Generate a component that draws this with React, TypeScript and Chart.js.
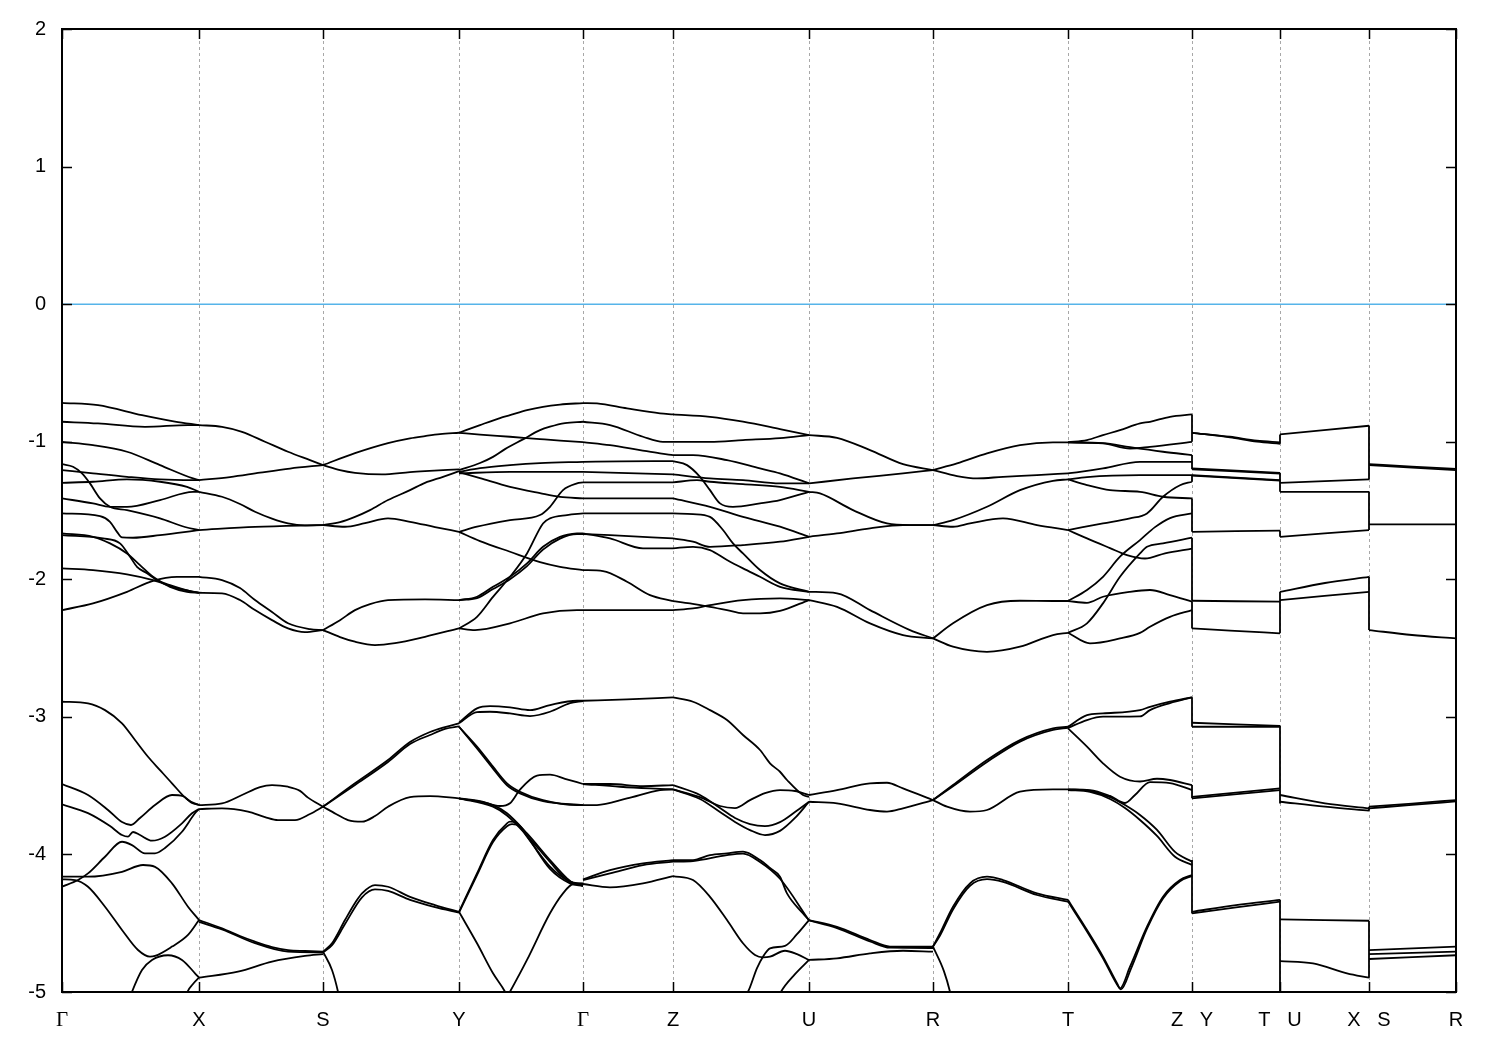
import React, { useEffect, useRef } from 'react';
import { Chart, registerables } from 'chart.js';

Chart.register(...registerables);

type Pt = [number, number];

// High-symmetry points along the k-path (path length units) and their labels
const kTickPos = [0, 137, 261, 397, 521, 611, 747, 871, 1006, 1130, 1218, 1307, 1394];
const kTickLabels = ['Γ', 'X', 'S', 'Y', 'Γ', 'Z', 'U', 'R', 'T', 'Z   Y', 'T   U', 'X   S', 'R'];
const energyTicks = [-5, -4, -3, -2, -1, 0, 1, 2];
const fermiEnergy = 0;

// Band energies (eV) per path segment: each curve is a list of [k, E]
const bandsGX: Pt[][] = [
  [[0, -0.717], [36, -0.734], [80, -0.807], [113, -0.854], [137, -0.879]],
  [[0, -0.855], [36, -0.867], [83, -0.892], [126, -0.879], [137, -0.879]],
  [[0, -1.001], [31, -1.025], [65, -1.073], [98, -1.17], [131, -1.267], [137, -1.279]],
  [[0, -1.163], [11, -1.182], [20, -1.23], [28, -1.303], [38, -1.412], [48, -1.473], [65, -1.497], [98, -1.557], [123, -1.62], [137, -1.642]],
  [[0, -1.412], [31, -1.448], [48, -1.473], [65, -1.473], [98, -1.424], [131, -1.364], [137, -1.364]],
  [[0, -1.206], [31, -1.23], [65, -1.255], [98, -1.274], [131, -1.279], [137, -1.279]],
  [[0, -1.299], [31, -1.291], [65, -1.274], [98, -1.291], [125, -1.328], [137, -1.364]],
  [[0, -1.521], [38, -1.541], [48, -1.582], [55, -1.655], [60, -1.696], [71, -1.698], [98, -1.679], [137, -1.642]],
  [[0, -1.666], [31, -1.691], [48, -1.739], [65, -1.812], [78, -1.897], [91, -1.982], [108, -2.055], [125, -2.091], [137, -2.098]],
  [[0, -1.679], [41, -1.703], [58, -1.739], [68, -1.836], [75, -1.909], [85, -1.957], [95, -2.006], [108, -2.042], [131, -2.091], [137, -2.098]],
  [[0, -1.921], [31, -1.933], [65, -1.964], [91, -2.006], [115, -2.064], [137, -2.098]],
  [[0, -2.224], [31, -2.175], [65, -2.091], [91, -2.011], [115, -1.982], [137, -1.982]],
  [[0, -2.89], [26, -2.902], [43, -2.951], [60, -3.047], [73, -3.168], [86, -3.29], [98, -3.387], [110, -3.483], [126, -3.605], [137, -3.641]],
  [[0, -3.488], [26, -3.568], [46, -3.677], [60, -3.765], [69, -3.786], [78, -3.735], [93, -3.641], [110, -3.568], [121, -3.576], [130, -3.626], [137, -3.641]],
  [[0, -3.636], [26, -3.7], [48, -3.794], [60, -3.859], [66, -3.871], [71, -3.837], [78, -3.859], [90, -3.9], [103, -3.871], [120, -3.774], [130, -3.701], [137, -3.67]],
  [[0, -4.235], [16, -4.186], [26, -4.138], [43, -4.017], [60, -3.908], [70, -3.932], [83, -3.992], [93, -3.992], [103, -3.953], [120, -3.835], [133, -3.701], [137, -3.67]],
  [[0, -4.162], [26, -4.162], [60, -4.126], [81, -4.077], [93, -4.09], [110, -4.21], [126, -4.38], [137, -4.477]],
  [[0, -4.181], [13, -4.186], [26, -4.235], [43, -4.38], [60, -4.549], [76, -4.695], [88, -4.743], [93, -4.738], [110, -4.67], [126, -4.585], [137, -4.477]],
  [[55, -5.3], [70, -4.998], [80, -4.84], [90, -4.767], [106, -4.733], [120, -4.767], [133, -4.864], [137, -4.896]],
  [[120, -5.15], [125, -5.006], [131, -4.942], [137, -4.896]],
];

const bandsXS: Pt[][] = [
  [[137, -0.879], [160, -0.892], [180, -0.928], [203, -1.0], [226, -1.073], [248, -1.134], [261, -1.17]],
  [[137, -1.279], [168, -1.257], [198, -1.225], [228, -1.195], [261, -1.17]],
  [[137, -1.364], [160, -1.4], [178, -1.453], [193, -1.509], [210, -1.559], [226, -1.594], [243, -1.608], [261, -1.606]],
  [[137, -1.642], [193, -1.619], [261, -1.606]],
  [[137, -1.982], [160, -2.006], [178, -2.064], [193, -2.151], [210, -2.238], [226, -2.32], [248, -2.362], [261, -2.369]],
  [[137, -2.098], [160, -2.102], [178, -2.151], [193, -2.224], [210, -2.297], [226, -2.357], [243, -2.384], [261, -2.369]],
  [[137, -3.641], [160, -3.629], [180, -3.568], [198, -3.51], [210, -3.496], [226, -3.508], [238, -3.538], [246, -3.587], [261, -3.653]],
  [[137, -3.67], [160, -3.665], [186, -3.689], [203, -3.728], [216, -3.75], [233, -3.75], [248, -3.706], [261, -3.653]],
  [[137, -4.477], [160, -4.537], [178, -4.593], [193, -4.634], [210, -4.673], [226, -4.695], [243, -4.702], [261, -4.707]],
  [[137, -4.49], [160, -4.545], [193, -4.645], [226, -4.707], [261, -4.712]],
  [[137, -4.896], [176, -4.852], [210, -4.779], [243, -4.738], [261, -4.724]],
];

const bandsSY: Pt[][] = [
  [[261, -1.17], [293, -1.083], [326, -1.01], [348, -0.975], [363, -0.959], [378, -0.945], [397, -0.935]],
  [[261, -1.17], [278, -1.206], [293, -1.226], [320, -1.238], [348, -1.221], [363, -1.214], [397, -1.201]],
  [[261, -1.606], [278, -1.584], [293, -1.546], [308, -1.497], [326, -1.424], [348, -1.352], [363, -1.299], [381, -1.255], [397, -1.214]],
  [[261, -1.606], [283, -1.618], [303, -1.592], [326, -1.557], [348, -1.582], [373, -1.62], [397, -1.655]],
  [[261, -2.369], [278, -2.297], [293, -2.224], [308, -2.18], [326, -2.151], [363, -2.146], [397, -2.151]],
  [[261, -2.369], [278, -2.42], [293, -2.454], [313, -2.478], [333, -2.464], [363, -2.418], [397, -2.357]],
  [[261, -3.653], [293, -3.483], [326, -3.314], [348, -3.183], [368, -3.11], [383, -3.074], [397, -3.047]],
  [[261, -3.653], [293, -3.495], [326, -3.328], [348, -3.198], [368, -3.132], [383, -3.088], [397, -3.07]],
  [[261, -3.653], [274, -3.706], [286, -3.75], [300, -3.762], [313, -3.721], [326, -3.653], [348, -3.583], [368, -3.576], [397, -3.592]],
  [[261, -4.707], [270, -4.84], [276, -4.998], [280, -5.15]],
  [[261, -4.707], [270, -4.646], [283, -4.477], [293, -4.353], [300, -4.283], [313, -4.223], [326, -4.235], [348, -4.308], [373, -4.368], [397, -4.417]],
  [[261, -4.712], [270, -4.66], [283, -4.506], [300, -4.312], [313, -4.254], [326, -4.265], [348, -4.33], [373, -4.383], [397, -4.423]],
];

const bandsYG: Pt[][] = [
  [[397, -0.935], [418, -0.879], [438, -0.828], [448, -0.807], [465, -0.771], [481, -0.746], [498, -0.73], [521, -0.719]],
  [[397, -0.935], [418, -0.948], [448, -0.964], [478, -0.981], [498, -0.992], [521, -1.003]],
  [[397, -1.206], [418, -1.155], [431, -1.11], [443, -1.054], [461, -0.983], [478, -0.916], [488, -0.891], [503, -0.865], [521, -0.855]],
  [[397, -1.219], [418, -1.192], [448, -1.17], [478, -1.155], [521, -1.146]],
  [[397, -1.23], [448, -1.219], [521, -1.219]],
  [[397, -1.221], [418, -1.265], [448, -1.328], [478, -1.374], [498, -1.401], [521, -1.412]],
  [[397, -1.655], [415, -1.618], [448, -1.57], [478, -1.533], [488, -1.473], [501, -1.352], [515, -1.303], [521, -1.296]],
  [[397, -1.655], [418, -1.722], [448, -1.8], [478, -1.875], [498, -1.909], [521, -1.933]],
  [[397, -2.151], [415, -2.127], [431, -2.055], [448, -1.982], [465, -1.884], [481, -1.764], [498, -1.692], [515, -1.667], [521, -1.666]],
  [[397, -2.151], [415, -2.137], [431, -2.071], [448, -1.999], [465, -1.904], [481, -1.784], [498, -1.704], [515, -1.672], [521, -1.672]],
  [[397, -2.357], [415, -2.273], [431, -2.128], [448, -1.982], [465, -1.812], [481, -1.594], [488, -1.557], [505, -1.533], [521, -1.521]],
  [[397, -2.357], [413, -2.369], [448, -2.32], [481, -2.248], [515, -2.224], [521, -2.224]],
  [[397, -3.043], [415, -2.938], [428, -2.922], [448, -2.931], [468, -2.951], [488, -2.914], [515, -2.883], [521, -2.883]],
  [[397, -3.047], [415, -2.965], [428, -2.963], [448, -2.975], [468, -2.994], [488, -2.963], [508, -2.9], [521, -2.885]],
  [[397, -3.072], [415, -3.216], [431, -3.362], [445, -3.483], [458, -3.544], [481, -3.605], [515, -3.641], [521, -3.641]],
  [[397, -3.072], [415, -3.23], [431, -3.376], [445, -3.497], [458, -3.556], [481, -3.612], [521, -3.641]],
  [[397, -3.592], [431, -3.641], [445, -3.701], [465, -3.847], [488, -4.041], [505, -4.174], [511, -4.206], [521, -4.215]],
  [[397, -3.592], [431, -3.653], [445, -3.717], [465, -3.863], [488, -4.055], [505, -4.186], [521, -4.23]],
  [[397, -3.592], [418, -3.612], [438, -3.648], [448, -3.628], [458, -3.529], [475, -3.427], [488, -3.42], [503, -3.45], [521, -3.488]],
  [[397, -4.417], [415, -4.138], [431, -3.895], [445, -3.774], [448, -3.762], [455, -3.774], [465, -3.871], [488, -4.089], [508, -4.198], [521, -4.215]],
  [[397, -4.423], [415, -4.15], [431, -3.91], [445, -3.795], [450, -3.78], [458, -3.795], [468, -3.897], [488, -4.105], [508, -4.21], [521, -4.23]],
  [[397, -4.417], [415, -4.646], [431, -4.864], [443, -4.998], [448, -5.08]],
  [[440, -5.1], [448, -4.998], [465, -4.767], [488, -4.428], [501, -4.283], [511, -4.215], [521, -4.21]],
];

const bandsGZ: Pt[][] = [
  [[521, -0.719], [535, -0.722], [565, -0.758], [598, -0.794], [611, -0.802]],
  [[521, -0.855], [548, -0.879], [581, -0.964], [601, -1.001], [611, -1.001]],
  [[521, -1.003], [548, -1.025], [578, -1.061], [598, -1.085], [611, -1.097]],
  [[521, -1.146], [558, -1.143], [611, -1.141]],
  [[521, -1.219], [611, -1.238]],
  [[521, -1.296], [611, -1.296]],
  [[521, -1.412], [611, -1.412]],
  [[521, -1.521], [611, -1.521]],
  [[521, -1.666], [548, -1.703], [581, -1.775], [611, -1.775]],
  [[521, -1.672], [548, -1.679], [611, -1.703]],
  [[521, -1.933], [541, -1.94], [565, -2.018], [588, -2.115], [611, -2.158]],
  [[521, -2.224], [611, -2.224]],
  [[521, -2.883], [565, -2.873], [611, -2.858]],
  [[521, -3.488], [548, -3.488], [581, -3.503], [611, -3.496]],
  [[521, -3.488], [558, -3.508], [588, -3.52], [611, -3.527]],
  [[521, -3.641], [535, -3.641], [565, -3.593], [598, -3.532], [611, -3.527]],
  [[521, -4.186], [548, -4.138], [581, -4.077], [611, -4.053]],
  [[521, -4.181], [548, -4.114], [581, -4.065], [611, -4.041]],
  [[521, -4.215], [548, -4.239], [581, -4.21], [611, -4.157]],
];

const bandsZU: Pt[][] = [
  [[611, -0.802], [648, -0.819], [681, -0.854], [718, -0.908], [747, -0.952]],
  [[611, -1.001], [648, -1.001], [681, -0.988], [718, -0.974], [747, -0.952]],
  [[611, -1.097], [631, -1.097], [665, -1.134], [698, -1.194], [718, -1.23], [747, -1.303]],
  [[611, -1.141], [625, -1.17], [638, -1.255], [648, -1.352], [658, -1.448], [671, -1.473], [698, -1.448], [718, -1.424], [747, -1.364]],
  [[611, -1.238], [648, -1.267], [681, -1.279], [718, -1.303], [747, -1.303]],
  [[611, -1.296], [635, -1.279], [648, -1.291], [681, -1.308], [718, -1.328], [747, -1.364]],
  [[611, -1.412], [648, -1.473], [681, -1.546], [718, -1.618], [747, -1.691]],
  [[611, -1.521], [631, -1.526], [648, -1.546], [661, -1.642], [671, -1.739], [681, -1.812], [698, -1.933], [718, -2.03], [747, -2.091]],
  [[611, -1.703], [631, -1.727], [648, -1.764], [681, -1.751], [718, -1.727], [747, -1.691]],
  [[611, -1.775], [631, -1.764], [648, -1.788], [665, -1.86], [681, -1.921], [698, -1.982], [718, -2.055], [747, -2.091]],
  [[611, -2.158], [628, -2.175], [648, -2.2], [665, -2.224], [681, -2.248], [698, -2.248], [718, -2.23], [747, -2.151]],
  [[611, -2.224], [631, -2.212], [648, -2.188], [681, -2.151], [718, -2.139], [747, -2.151]],
  [[611, -2.858], [631, -2.89], [648, -2.951], [665, -3.023], [681, -3.132], [698, -3.241], [708, -3.338], [718, -3.399], [725, -3.459], [741, -3.568], [747, -3.581]],
  [[611, -3.496], [638, -3.568], [658, -3.663], [673, -3.735], [688, -3.779], [703, -3.794], [718, -3.765], [733, -3.692], [747, -3.617]],
  [[611, -3.527], [638, -3.597], [658, -3.692], [673, -3.764], [688, -3.823], [703, -3.859], [718, -3.829], [733, -3.735], [747, -3.617]],
  [[611, -3.527], [638, -3.583], [658, -3.648], [673, -3.663], [688, -3.605], [703, -3.554], [718, -3.532], [733, -3.539], [747, -3.568]],
  [[611, -4.041], [631, -4.041], [648, -4.005], [665, -3.992], [681, -3.98], [698, -4.041], [708, -4.099], [718, -4.162], [725, -4.283], [741, -4.429], [747, -4.477]],
  [[611, -4.053], [631, -4.048], [665, -4.005], [681, -3.994], [698, -4.055], [718, -4.177], [747, -4.48]],
  [[611, -4.157], [631, -4.186], [648, -4.308], [665, -4.477], [681, -4.646], [693, -4.731], [701, -4.748], [708, -4.743], [723, -4.7], [735, -4.725], [747, -4.767]],
  [[678, -5.06], [686, -4.998], [695, -4.826], [701, -4.743], [708, -4.683], [723, -4.665], [735, -4.58], [747, -4.477]],
  [[714, -5.08], [719, -4.998], [733, -4.87], [747, -4.767]],
];

const bandsUR: Pt[][] = [
  [[747, -0.952], [775, -0.972], [808, -1.061], [841, -1.163], [871, -1.206]],
  [[747, -1.303], [791, -1.267], [841, -1.23], [871, -1.206]],
  [[747, -1.364], [758, -1.376], [791, -1.497], [825, -1.594], [848, -1.606], [871, -1.606]],
  [[747, -1.691], [775, -1.667], [808, -1.63], [841, -1.606], [871, -1.606]],
  [[747, -2.091], [775, -2.102], [808, -2.224], [848, -2.369], [871, -2.43]],
  [[747, -2.151], [775, -2.2], [808, -2.32], [841, -2.405], [871, -2.43]],
  [[747, -3.568], [775, -3.532], [808, -3.483], [825, -3.479], [841, -3.52], [871, -3.605]],
  [[747, -3.617], [775, -3.629], [808, -3.677], [825, -3.689], [841, -3.665], [871, -3.605]],
  [[747, -4.477], [775, -4.526], [808, -4.622], [828, -4.67], [871, -4.67]],
  [[747, -4.48], [775, -4.535], [808, -4.632], [828, -4.678], [871, -4.68]],
  [[747, -4.767], [775, -4.755], [808, -4.719], [841, -4.7], [871, -4.707]],
];

const bandsRT: Pt[][] = [
  [[871, -1.206], [895, -1.158], [925, -1.085], [958, -1.025], [991, -1.005], [1006, -1.005]],
  [[871, -1.206], [895, -1.25], [915, -1.267], [941, -1.255], [975, -1.243], [1006, -1.23]],
  [[871, -1.606], [891, -1.57], [925, -1.473], [958, -1.352], [991, -1.284], [1006, -1.274]],
  [[871, -1.606], [891, -1.618], [908, -1.594], [941, -1.557], [975, -1.606], [1006, -1.642]],
  [[871, -2.43], [891, -2.32], [925, -2.188], [958, -2.156], [991, -2.158], [1006, -2.158]],
  [[871, -2.43], [891, -2.49], [925, -2.527], [958, -2.49], [991, -2.405], [1006, -2.389]],
  [[871, -3.605], [891, -3.496], [925, -3.314], [958, -3.169], [991, -3.084], [1006, -3.072]],
  [[871, -3.605], [891, -3.505], [925, -3.328], [958, -3.18], [991, -3.095], [1006, -3.08]],
  [[871, -3.605], [885, -3.653], [908, -3.689], [925, -3.677], [958, -3.544], [991, -3.527], [1006, -3.527]],
  [[871, -4.67], [878, -4.573], [891, -4.38], [908, -4.21], [925, -4.162], [941, -4.186], [975, -4.283], [1006, -4.331]],
  [[871, -4.67], [878, -4.59], [891, -4.4], [908, -4.228], [925, -4.18], [941, -4.2], [975, -4.295], [1006, -4.343]],
  [[871, -4.67], [882, -4.85], [888, -4.998], [891, -5.1]],
];

const bandsTZ: Pt[][] = [
  [[1006, -1.005], [1025, -0.988], [1041, -0.952], [1058, -0.916], [1078, -0.867], [1088, -0.855], [1108, -0.819], [1130, -0.802]],
  [[1006, -1.005], [1041, -1.012], [1068, -1.05], [1088, -1.037], [1130, -1.001]],
  [[1006, -1.005], [1041, -1.01], [1068, -1.04], [1101, -1.073], [1130, -1.097]],
  [[1006, -1.23], [1018, -1.219], [1041, -1.194], [1078, -1.146], [1130, -1.146]],
  [[1006, -1.274], [1025, -1.257], [1078, -1.243], [1130, -1.243]],
  [[1006, -1.274], [1025, -1.315], [1048, -1.352], [1078, -1.364], [1101, -1.4], [1130, -1.412]],
  [[1006, -1.642], [1041, -1.594], [1068, -1.557], [1085, -1.521], [1101, -1.4], [1118, -1.316], [1130, -1.291]],
  [[1006, -1.642], [1025, -1.703], [1048, -1.773], [1065, -1.824], [1083, -1.849], [1103, -1.811], [1130, -1.777]],
  [[1006, -2.158], [1025, -2.078], [1041, -1.982], [1058, -1.836], [1078, -1.715], [1093, -1.621], [1108, -1.555], [1130, -1.521]],
  [[1006, -2.389], [1025, -2.32], [1041, -2.175], [1058, -1.982], [1078, -1.812], [1085, -1.764], [1101, -1.739], [1130, -1.698]],
  [[1006, -2.158], [1025, -2.171], [1041, -2.127], [1068, -2.091], [1088, -2.078], [1108, -2.115], [1130, -2.163]],
  [[1006, -2.389], [1028, -2.466], [1058, -2.43], [1078, -2.39], [1088, -2.345], [1108, -2.273], [1130, -2.224]],
  [[1006, -3.072], [1025, -2.987], [1041, -2.975], [1078, -2.951], [1088, -2.927], [1108, -2.89], [1130, -2.858]],
  [[1006, -3.08], [1025, -3.023], [1041, -2.999], [1078, -2.997], [1088, -2.951], [1108, -2.9], [1130, -2.858]],
  [[1006, -3.084], [1025, -3.217], [1041, -3.338], [1058, -3.435], [1078, -3.47], [1095, -3.45], [1108, -3.459], [1130, -3.496]],
  [[1006, -3.527], [1028, -3.532], [1048, -3.575], [1063, -3.626], [1073, -3.568], [1088, -3.474], [1108, -3.481], [1130, -3.532]],
  [[1006, -3.527], [1028, -3.539], [1048, -3.583], [1063, -3.641], [1078, -3.713], [1095, -3.822], [1113, -3.982], [1130, -4.053]],
  [[1006, -3.532], [1028, -3.546], [1048, -3.597], [1063, -3.663], [1078, -3.75], [1095, -3.866], [1113, -4.017], [1130, -4.077]],
  [[1006, -4.331], [1025, -4.549], [1041, -4.743], [1055, -4.936], [1058, -4.973], [1068, -4.816], [1085, -4.525], [1101, -4.307], [1118, -4.186], [1130, -4.15]],
  [[1006, -4.343], [1025, -4.56], [1041, -4.755], [1055, -4.945], [1059, -4.98], [1069, -4.83], [1085, -4.54], [1101, -4.32], [1118, -4.195], [1130, -4.157]],
];

const bandsYT: Pt[][] = [
  [[1130, -0.935], [1168, -0.964], [1195, -0.993], [1218, -1.005]],
  [[1130, -0.935], [1168, -0.968], [1195, -1.0], [1218, -1.015]],
  [[1130, -1.194], [1218, -1.226]],
  [[1130, -1.2], [1218, -1.232]],
  [[1130, -1.243], [1218, -1.279]],
  [[1130, -1.246], [1218, -1.283]],
  [[1130, -1.655], [1218, -1.646]],
  [[1130, -2.156], [1218, -2.163]],
  [[1130, -2.357], [1168, -2.373], [1218, -2.393]],
  [[1130, -3.043], [1218, -3.065]],
  [[1130, -3.072], [1218, -3.072]],
  [[1130, -3.581], [1218, -3.52]],
  [[1130, -3.592], [1218, -3.532]],
  [[1130, -4.417], [1174, -4.368], [1218, -4.331]],
  [[1130, -4.429], [1174, -4.385], [1218, -4.343]],
];

const bandsUX: Pt[][] = [
  [[1218, -0.947], [1307, -0.884]],
  [[1218, -1.299], [1307, -1.274]],
  [[1218, -1.364], [1307, -1.364]],
  [[1218, -1.691], [1307, -1.642]],
  [[1218, -2.091], [1263, -2.027], [1307, -1.982]],
  [[1218, -2.151], [1307, -2.091]],
  [[1218, -3.568], [1263, -3.629], [1307, -3.665]],
  [[1218, -3.617], [1263, -3.653], [1307, -3.682]],
  [[1218, -4.472], [1307, -4.482]],
  [[1218, -4.775], [1251, -4.792], [1285, -4.864], [1307, -4.896]],
];

const bandsSR: Pt[][] = [
  [[1307, -1.17], [1350, -1.188], [1394, -1.206]],
  [[1307, -1.163], [1350, -1.181], [1394, -1.198]],
  [[1307, -1.601], [1394, -1.601]],
  [[1307, -2.369], [1350, -2.405], [1394, -2.43]],
  [[1307, -3.653], [1350, -3.63], [1394, -3.605]],
  [[1307, -3.665], [1350, -3.64], [1394, -3.615]],
  [[1307, -4.695], [1394, -4.67]],
  [[1307, -4.724], [1394, -4.707]],
  [[1307, -4.76], [1394, -4.733]],
];

// Energy spans joined by vertical steps at the path discontinuities
const jumpZY: Pt[] = [[-0.802, -1.001], [-1.097, -1.2], [-1.243, -1.291], [-1.412, -1.655], [-1.698, -2.156], [-2.163, -2.357], [-2.858, -3.072], [-3.496, -3.592], [-4.041, -4.429]];
const jumpTU: Pt[] = [[-0.947, -1.015], [-1.226, -1.364], [-1.646, -1.691], [-2.091, -2.393], [-3.065, -3.63], [-4.331, -5.5]];
const jumpXS: Pt[] = [[-0.884, -1.274], [-1.364, -1.642], [-1.982, -2.369], [-3.653, -3.682], [-4.482, -4.896]];

const SANS = '"Liberation Sans", Arial, Helvetica, sans-serif';
const SERIF = '"Liberation Serif", "Times New Roman", serif';
const LINE_W = 1.8;

const framePlugin = {
  id: 'gnuplotFrame',
  afterDraw(chart: any) {
    const { ctx, chartArea: a, scales } = chart;
    ctx.save();
    ctx.strokeStyle = '#000';
    ctx.lineWidth = 2;
    ctx.strokeRect(a.left, a.top, a.right - a.left, a.bottom - a.top);
    ctx.lineWidth = 1.5;
    ctx.beginPath();
    for (const v of energyTicks) {
      const y = Math.round(scales.y.getPixelForValue(v)) + 0.5;
      ctx.moveTo(a.left, y);
      ctx.lineTo(a.left + 10, y);
      ctx.moveTo(a.right, y);
      ctx.lineTo(a.right - 10, y);
    }
    for (const k of kTickPos) {
      const x = Math.round(scales.x.getPixelForValue(k)) + 0.5;
      ctx.moveTo(x, a.bottom);
      ctx.lineTo(x, a.bottom - 10);
      ctx.moveTo(x, a.top);
      ctx.lineTo(x, a.top + 10);
    }
    ctx.stroke();
    ctx.restore();
  },
};

export default function App() {
  const canvasRef = useRef<HTMLCanvasElement>(null);

  useEffect(() => {
    const canvas = canvasRef.current;
    if (!canvas) return;
    const segments = [bandsGX, bandsXS, bandsSY, bandsYG, bandsGZ, bandsZU, bandsUR, bandsRT, bandsTZ, bandsYT, bandsUX, bandsSR];
    const datasets: any[] = [];
    const last = kTickPos.length - 1;
    datasets.push({
      data: [{ x: kTickPos[0], y: fermiEnergy }, { x: kTickPos[last], y: fermiEnergy }],
      borderColor: '#56b4e9',
      borderWidth: 1.5,
      pointRadius: 0,
      tension: 0,
    });
    for (const seg of segments) {
      for (const curve of seg) {
        datasets.push({
          data: curve.map(([x, y]) => ({ x, y })),
          borderColor: '#000',
          borderWidth: LINE_W,
          pointRadius: 0,
          cubicInterpolationMode: 'monotone',
        });
      }
    }
    const jumpSets: [number, Pt[]][] = [[kTickPos[9], jumpZY], [kTickPos[10], jumpTU], [kTickPos[11], jumpXS]];
    for (const [k, spans] of jumpSets) {
      for (const [a, b] of spans) {
        datasets.push({
          data: [{ x: k, y: a }, { x: k, y: b }],
          borderColor: '#000',
          borderWidth: LINE_W,
          pointRadius: 0,
          tension: 0,
        });
      }
    }

    const chart = new Chart(canvas, {
      type: 'line',
      data: { datasets },
      options: {
        animation: false,
        responsive: false,
        maintainAspectRatio: false,
        devicePixelRatio: 1,
        events: [],
        layout: { padding: { left: 0, right: 44, top: 29, bottom: 0 } },
        plugins: { legend: { display: false }, tooltip: { enabled: false } },
        scales: {
          x: {
            type: 'linear',
            min: kTickPos[0],
            max: kTickPos[last],
            afterBuildTicks: (s: any) => {
              s.ticks = kTickPos.map((v) => ({ value: v }));
            },
            afterFit: (s: any) => {
              s.height = 58;
            },
            ticks: {
              autoSkip: false,
              maxRotation: 0,
              minRotation: 0,
              padding: 16,
              color: '#000',
              font: (c: any) => ({
                family: c.tick && c.tick.label === 'Γ' ? SERIF : SANS,
                size: c.tick && c.tick.label === 'Γ' ? 21 : 20,
              }),
              callback: (_v: any, i: number) => kTickLabels[i],
            },
            grid: {
              drawTicks: false,
              lineWidth: 1,
              color: (c: any) => (c.index === 0 || c.index === last ? 'rgba(0,0,0,0)' : '#a8a8a8'),
            },
            border: { display: false, dash: [3, 3] },
          },
          y: {
            type: 'linear',
            min: -5,
            max: 2,
            afterBuildTicks: (s: any) => {
              s.ticks = energyTicks.map((v) => ({ value: v }));
            },
            afterFit: (s: any) => {
              s.width = 62;
            },
            ticks: {
              padding: 16,
              color: '#000',
              font: { family: SANS, size: 20 },
              callback: (v: any) => String(v),
            },
            grid: { display: false, drawTicks: false },
            border: { display: false },
          },
        },
      } as any,
      plugins: [framePlugin],
    });

    return () => chart.destroy();
  }, []);

  return (
    <div style={{ position: 'absolute', left: 0, top: 0, width: 1500, height: 1050, background: '#fff' }}>
      <canvas ref={canvasRef} width={1500} height={1050} style={{ display: 'block' }} />
    </div>
  );
}
